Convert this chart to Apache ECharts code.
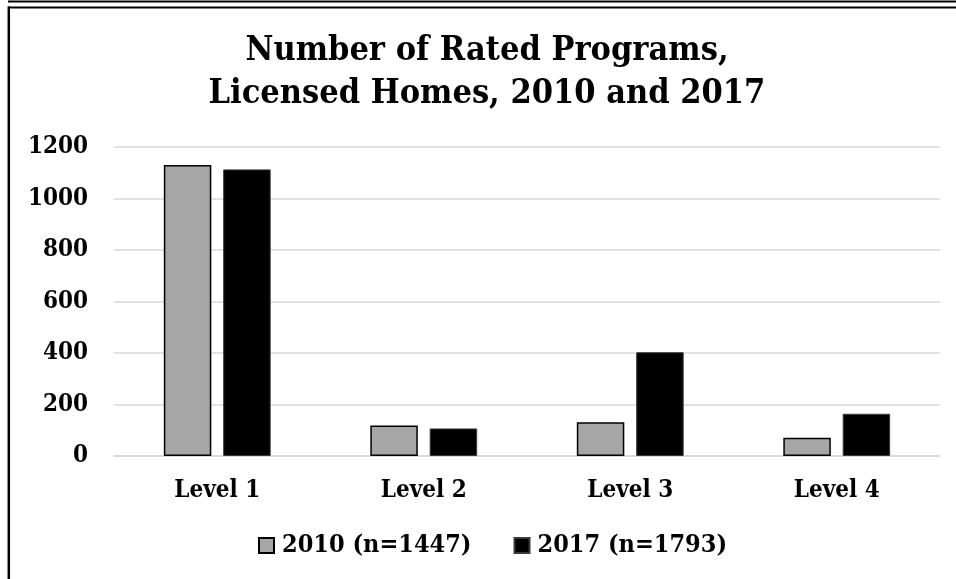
<!DOCTYPE html>
<html>
<head>
<meta charset="utf-8">
<script src="https://cdn.jsdelivr.net/npm/echarts@6/dist/echarts.min.js"></script>
<style>
  html, body { margin: 0; padding: 0; background: #fff; }
  #chart { width: 956px; height: 579px; }
</style>
</head>
<body>
<div id="chart"></div>
<script>
// data
const levels = ['Level 1', 'Level 2', 'Level 3', 'Level 4']
const seriesNames = ['2010 (n=1447)', '2017 (n=1793)']
const values2010 = [1130, 118, 131, 71]
const values2017 = [1113, 107, 403, 164]

const FONT = '"DejaVu Serif Condensed", "DejaVu Serif", serif'

const chart = echarts.init(document.getElementById('chart'))

const option = {
  backgroundColor: '#fff',
  animation: false,
  title: {
    text: 'Number of Rated Programs,\nLicensed Homes, 2010 and 2017',
    left: 487,
    textAlign: 'center',
    top: 30,
    padding: 0,
    textStyle: {
      fontFamily: FONT,
      fontWeight: 'bold',
      fontSize: 34,
      lineHeight: 43,
      color: '#000'
    }
  },
  grid: {
    left: 114,
    right: 16,
    top: 147,
    bottom: 123
  },
  legend: {
    data: seriesNames,
    left: 253,
    top: 528,
    icon: 'rect',
    itemWidth: 15,
    itemHeight: 15,
    itemGap: 42,
    textStyle: {
      fontFamily: FONT,
      fontWeight: 'bold',
      fontSize: 25,
      color: '#000',
      padding: [0, 0, 0, 3]
    }
  },
  xAxis: {
    type: 'category',
    data: levels,
    axisLine: { show: true, lineStyle: { color: '#d9d9d9', width: 1.5 } },
    axisTick: { show: false },
    axisLabel: {
      margin: 23,
      fontFamily: FONT,
      fontWeight: 'bold',
      fontSize: 24,
      color: '#000'
    }
  },
  yAxis: {
    type: 'value',
    min: 0,
    max: 1200,
    interval: 200,
    axisLine: { show: false },
    axisTick: { show: false },
    splitLine: { lineStyle: { color: '#d9d9d9', width: 1.5 } },
    axisLabel: {
      margin: 26,
      formatter: v => String(v),
      fontFamily: FONT,
      fontWeight: 'bold',
      fontSize: 24,
      color: '#000'
    }
  },
  series: [
    {
      name: seriesNames[0],
      type: 'bar',
      data: values2010,
      barWidth: '23%',
      barGap: '25%',
      itemStyle: { color: '#a6a6a6', borderColor: '#000', borderWidth: 1.5 }
    },
    {
      name: seriesNames[1],
      type: 'bar',
      data: values2017,
      barWidth: '23%',
      itemStyle: { color: '#000', borderColor: '#3a3a3a', borderWidth: 1 }
    }
  ],
  graphic: [
    { type: 'line', shape: { x1: 8, y1: 1.5, x2: 956, y2: 1.5 }, style: { stroke: '#000', lineWidth: 2 } },
    { type: 'line', shape: { x1: 8, y1: 7.5, x2: 956, y2: 7.5 }, style: { stroke: '#000', lineWidth: 2 } },
    { type: 'line', shape: { x1: 8.8, y1: 6.5, x2: 8.8, y2: 579 }, style: { stroke: '#000', lineWidth: 2.5 } }
  ]
}

chart.setOption(option)
</script>
</body>
</html>
